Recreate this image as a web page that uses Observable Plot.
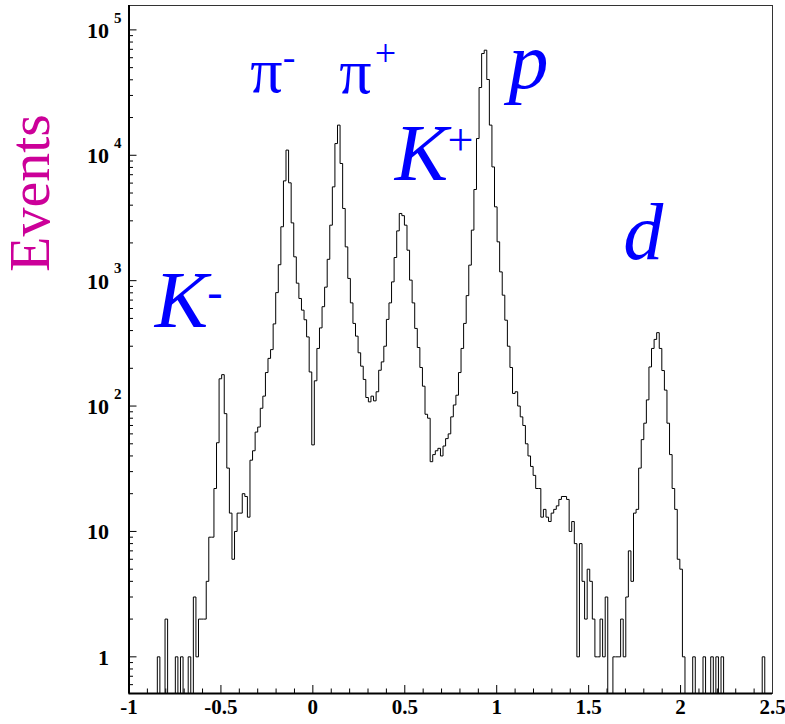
<!DOCTYPE html>
<html><head><meta charset="utf-8">
<script src="https://cdn.jsdelivr.net/npm/d3@7"></script>
<script src="https://cdn.jsdelivr.net/npm/@observablehq/plot@0.6"></script>
<style>
html,body{margin:0;padding:0;background:#fff;}
#chart{width:785px;height:724px;overflow:hidden;}
</style></head><body><div id="chart"></div>
<script>
// ---- data ----
const xMin = -1, xMax = 2.5, binWidth = 0.014;   // 250 bins
const counts = [
  0,0,0,0,0,0,0,0,0,0,        // 0-9
  0,1,0,0,2,0,0,0,1,0,        // 10-19
  1,0,0,1,0,3,1,2,2,2,        // 20-29
  4,9,9,22,51,165,178,87,32,14, // 30-39
  6,10,14,14,20,19,13,37,44,62, // 40-49
  68,96,120,185,240,282,452,803,1340,2690, // 50-59
  6250,11000,6030,2890,1549,955,721,582,488,356, // 60-69
  187,49,159,288,420,620,888,1480,2770,5600, // 70-79
  12400,17400,8600,3765,1860,1042,665,456,361,266, // 80-89
  208,163,117,108,120,110,130,193,225,300, // 90-99
  491,665,978,1530,2495,3435,3300,2770,1750,1010, // 100-109
  665,416,293,203,144,86,80,36,41,44, // 110-119
  46,40,48,55,60,82,102,122,185,288, // 120-129
  456,760,1330,2530,5335,13600,34700,64800,68900,40200, // 130-139
  17400,8075,3880,2040,1175,766,484,300,203,126, // 140-149
  130,100,82,70,50,40,33,28,22,22, // 150-159
  13,15,13,12,14,15,16,18,19,19, // 160-169
  18,10,12,8,1,8,4,2,5,4,     // 170-179
  2,1,1,2,1,3,0,0,1,1,        // 180-189
  1,2,1,3,7,4,14,15,32,54,    // 190-199
  73,112,205,288,340,385,288,192,134,73, // 200-209
  41,22,15,6,5,1,0,0,0,1,     // 210-219
  0,0,0,1,0,0,1,0,1,0,        // 220-229
  1,0,0,0,0,0,0,0,0,0,        // 230-239
  0,0,0,0,0,0,1,0,0,0         // 240-249
];
const xMajorTicks = [-1, -0.5, 0, 0.5, 1, 1.5, 2, 2.5];
const xTickLabels = ["-1", "-0.5", "0", "0.5", "1", "1.5", "2", "2.5"];
const yMajorTicks = [1, 10, 100, 1000, 10000, 100000];
const yTickBase = ["1", "10", "10", "10", "10", "10"];
const yTickExp  = ["", "", "2", "3", "4", "5"];
const yLabel = "Events";
const particleNames = ["π", "π", "K", "p", "K", "d"];
const particleCharges = ["-", "+", "+", "", "-", ""];

// ---- annotation placement (data coordinates) ----
const nameAt = [[-0.252, 46500], [0.232, 45700], [0.591, 10140], [1.173, 55500], [-0.7145, 682], [1.797, 2404]];
const chargeAt = [[-0.130, 60200], [0.395, 64700], [0.803, 13100], null, [-0.533, 804], null];
const yLabelAt = [-1.536, 5000];

// ---- layout ----
const W = 785, H = 724, mL = 128.5, mR = 13, mT = 5, mB = 31;
const innerW = W - mL - mR, innerH = H - mT - mB;
const yDomain = [0.51, 1.565e5];
const floorY = yDomain[0];
const serif = "'Liberation Serif','Times New Roman',serif";

const pts = counts.map((c, i) => ({x: xMin + i * binWidth, y: c > 0 ? c : floorY}));
pts.push({x: xMax, y: pts[pts.length - 1].y});

const xMinor = d3.range(-10, 26).map(k => k / 10).filter(v => Math.abs(v * 2 - Math.round(v * 2)) > 1e-9);
const yMinor = [];
for (let e = -1; e <= 5; e++) for (let m = 2; m <= 9; m++) {
  const v = m * Math.pow(10, e);
  if (v > yDomain[0] && v < yDomain[1]) yMinor.push(v);
}

const names = particleNames.map((t, i) => ({t, x: nameAt[i][0], y: nameAt[i][1], greek: t === "π"}));
const charges = particleCharges.map((t, i) => ({t, pos: chargeAt[i], isPi: i < 2})).filter(d => d.t)
  .map(d => ({t: d.t, x: d.pos[0], y: d.pos[1], isPi: d.isPi}));

const chart = Plot.plot({
  width: W, height: H,
  marginLeft: mL, marginRight: mR, marginTop: mT, marginBottom: mB,
  x: {domain: [xMin, xMax], axis: null},
  y: {type: "log", domain: yDomain, axis: null},
  style: {background: "#fff", overflow: "visible"},
  marks: [
    Plot.line(pts, {x: "x", y: "y", curve: "step-after", stroke: "#000", strokeWidth: 1}),
    Plot.tickX(xMinor, {x: d => d, insetTop: innerH - 4.5, stroke: "#000", strokeWidth: 1}),
    Plot.tickX(xMajorTicks, {x: d => d, insetTop: innerH - 8, stroke: "#000", strokeWidth: 1}),
    Plot.tickY(yMinor, {y: d => d, insetRight: innerW - 4.5, stroke: "#000", strokeWidth: 1}),
    Plot.tickY(yMajorTicks, {y: d => d, insetRight: innerW - 8, stroke: "#000", strokeWidth: 1}),
    Plot.frame({stroke: "#333", strokeWidth: 1}),
    Plot.ruleX([xMin], {stroke: "#000", strokeWidth: 2}),
    Plot.ruleY([yDomain[0]], {stroke: "#000", strokeWidth: 2}),
    // tick labels
    Plot.text(xMajorTicks, {x: d => d, frameAnchor: "bottom", text: (d, i) => xTickLabels[i], dy: 20,
      fontSize: 21, fontWeight: "bold", fontFamily: serif, fill: "#000"}),
    Plot.text(yMajorTicks, {y: d => d, frameAnchor: "left", text: (d, i) => yTickBase[i], textAnchor: "end", dx: -20, dy: 1,
      fontSize: 22, fontWeight: "bold", fontFamily: serif, fill: "#000"}),
    Plot.text(yMajorTicks, {y: d => d, frameAnchor: "left", text: (d, i) => yTickExp[i], textAnchor: "start", dx: -15, dy: -12,
      fontSize: 15, fontWeight: "bold", fontFamily: serif, fill: "#000"}),
    // axis title
    Plot.text([yLabel], {x: () => yLabelAt[0], y: () => yLabelAt[1], text: d => d, rotate: -90,
      fontSize: 58, fontFamily: serif, fill: "#cc0099"}),
    // particle labels
    Plot.text(names.filter(d => d.greek), {x: "x", y: "y", text: "t", fontSize: 64, fontFamily: serif, fill: "#0000ff"}),
    Plot.text(names.filter(d => !d.greek), {x: "x", y: "y", text: "t", fontSize: 80, fontStyle: "italic", fontFamily: serif, fill: "#0000ff"}),
    Plot.text(charges.filter(d => d.isPi), {x: "x", y: "y", text: "t", fontSize: 38, fontFamily: serif, fill: "#0000ff"}),
    Plot.text(charges.filter(d => !d.isPi), {x: "x", y: "y", text: "t", fontSize: 46, fontFamily: serif, fill: "#0000ff"})
  ]
});
document.getElementById("chart").appendChild(chart);
</script>
</body></html>
